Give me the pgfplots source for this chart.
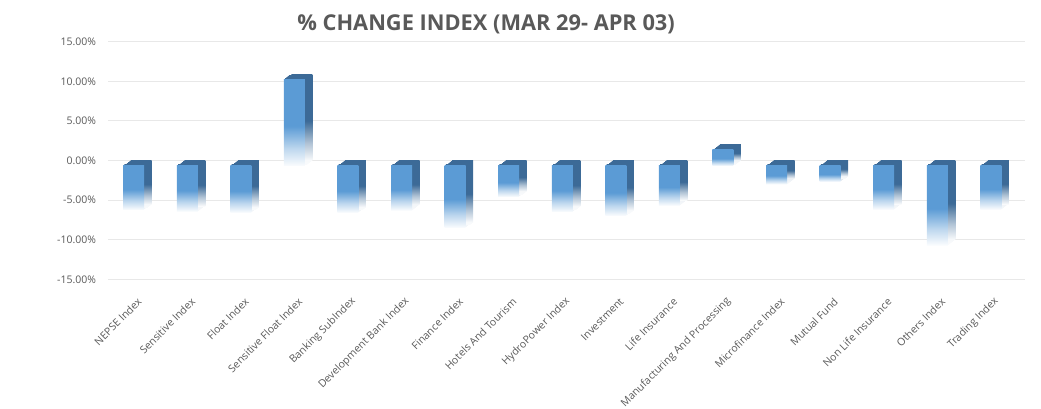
\documentclass[border=0pt]{standalone}
\usepackage{pgfplots}
\pgfplotsset{compat=1.18}
\usepackage{pgfplotstable}
\usepackage{fontspec}
\setmainfont{Open Sans}
\definecolor{barblue}{HTML}{5B9BD5}
\definecolor{sideblue}{HTML}{3C6A97}
\definecolor{txtgray}{HTML}{595959}
\definecolor{gridgray}{HTML}{E8E8E8}
\pgfdeclareverticalshading{frontfade}{100bp}{color(0bp)=(barblue!3!white); color(25bp)=(barblue!3!white); color(35bp)=(barblue!40!white); color(48bp)=(barblue); color(100bp)=(barblue)}
\pgfdeclareverticalshading{sidefade}{100bp}{color(0bp)=(sideblue!3!white); color(25bp)=(sideblue!3!white); color(35bp)=(sideblue!40!white); color(48bp)=(sideblue); color(100bp)=(sideblue)}
\pgfplotstableread{
x y
0 -5.55
1 -5.75
2 -5.9
3 10.9
4 -5.9
5 -5.6
6 -7.8
7 -3.9
8 -5.8
9 -6.3
10 -5.0
11 2.0
12 -2.3
13 -2.0
14 -5.5
15 -10.0
16 -5.5
}\idxdata
\pgfplotsset{
  onebar/.style={x filter/.code={\ifnum\coordindex=#1\relax\else\def\pgfmathresult{}\fi}},
  sideface/.style={ybar, bar width=21pt, bar shift={-6pt+#1*1.25pt}, yshift={-5.3pt+#1*0.883pt}, draw=none, shading=sidefade},
  frontface/.style={ybar, bar width=21pt, bar shift=-6pt, yshift=-5.3pt, draw=none, shading=frontfade},
}
\begin{document}
\begin{tikzpicture}
\begin{axis}[
  scale only axis, width=916.5pt, height=237.6pt,
  xmin=-0.582, xmax=16.526, ymin=-15, ymax=15,
  ytick={-15,-10,...,15},
  xtick={0,...,16},
  xticklabels={NEPSE Index,Sensitive Index,Float Index,Sensitive Float Index,Banking SubIndex,Development Bank Index,Finance Index,Hotels And Tourism,HydroPower Index,Investment,Life Insurance,Manufacturing And Processing,Microfinance Index,Mutual Fund,Non Life Insurance,Others Index,Trading Index},
  ymajorgrids, grid style={draw=gridgray, line width=1pt},
  axis line style={draw=none}, major tick length=0pt,
  /pgf/number format/assume math mode=true,
  yticklabel={\pgfmathprintnumber[fixed,fixed zerofill,precision=2]{\tick}\%},
  yticklabel style={font=\fontsize{10.5}{12}\selectfont, text=txtgray, xshift=-9pt},
  xticklabel style={font=\fontsize{10.5}{12}\selectfont, text=txtgray, rotate=45, anchor=east, inner sep=0pt},
  xticklabel shift=20.5pt,
  title={\% CHANGE INDEX (MAR 29- APR 03)},
  title style={at={(0.412,1)}, anchor=base, yshift=5.2pt, font=\fontsize{21.8}{24}\selectfont\bfseries, text=txtgray},
  clip=false,
]
\pgfplotsinvokeforeach{0,...,16}{
  \addplot[sideface=1, onebar=#1] table[x=x,y=y]{\idxdata};
  \addplot[sideface=2, onebar=#1] table[x=x,y=y]{\idxdata};
  \addplot[sideface=3, onebar=#1] table[x=x,y=y]{\idxdata};
  \addplot[sideface=4, onebar=#1] table[x=x,y=y]{\idxdata};
  \addplot[sideface=5, onebar=#1] table[x=x,y=y]{\idxdata};
  \addplot[sideface=6, onebar=#1] table[x=x,y=y]{\idxdata};
  \addplot[frontface, onebar=#1] table[x=x,y=y]{\idxdata};
}
\end{axis}
\pgfresetboundingbox
\path ([xshift=-108.5pt,yshift=-128.7pt]current axis.south west) rectangle ([xshift=932.5pt,yshift=279.3pt]current axis.south west);
\end{tikzpicture}
\end{document}
